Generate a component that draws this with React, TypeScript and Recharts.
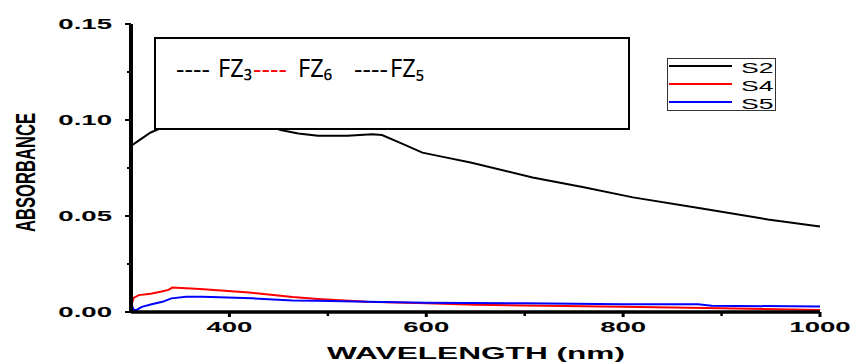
import React from 'react';
import { LineChart, Line, XAxis, YAxis, Legend } from 'recharts';

// ---- data ----
const s2Wavelength = [300, 310, 320, 330, 350, 400, 440, 452, 470, 490, 520, 545, 555, 573, 596, 617, 645, 708, 760, 810, 880, 947, 1000];
const s2Absorbance = [0.0865, 0.09, 0.0935, 0.0956, 0.098, 0.099, 0.097, 0.0948, 0.093, 0.0918, 0.0918, 0.0926, 0.0922, 0.0882, 0.083, 0.0808, 0.0779, 0.0701, 0.065, 0.0597, 0.0539, 0.0482, 0.0445];

const s4Wavelength = [300, 303, 308, 320, 330, 338, 342, 370, 420, 464, 490, 540, 600, 650, 700, 800, 900, 1000];
const s4Absorbance = [0.0035, 0.0075, 0.0088, 0.0095, 0.0105, 0.0115, 0.0127, 0.012, 0.0102, 0.0078, 0.0068, 0.0053, 0.0045, 0.0038, 0.0034, 0.0027, 0.002, 0.001];

const s5Wavelength = [300, 303, 306, 311, 321, 332, 341, 356, 373, 423, 464, 490, 540, 600, 700, 800, 876, 890, 1000];
const s5Absorbance = [0.0045, 0.001, 0.0012, 0.0027, 0.004, 0.0053, 0.0071, 0.0079, 0.008, 0.0071, 0.006, 0.0058, 0.0054, 0.0048, 0.0045, 0.0041, 0.004, 0.0033, 0.0028];

const seriesNames = ['S2', 'S4', 'S5'];
const seriesColors = ['#000000', '#ff0000', '#0000ff'];

const xTicks = [400, 500, 600, 700, 800, 900, 1000];
const yTicks = [0, 0.025, 0.05, 0.075, 0.1, 0.125, 0.15];
const topTicks = [1, 2, 3, 4, 5, 6, 7, 8, 9];
const rightTicks = [0.5, 1, 1.5, 2, 2.5, 3, 3.5, 4, 4.5];

const xLabel = 'WAVELENGTH (nm)';
const yLabel = 'ABSORBANCE';
const noteLabels = ['FZ₃', 'FZ₆', 'FZ₅'];
const noteDashColors = ['#000000', '#ff0000', '#000000'];

const toPoints = (xs: number[], ys: number[]) => xs.map((x, i) => ({ wavelength: x, absorbance: ys[i] }));
const seriesData = [
  toPoints(s2Wavelength, s2Absorbance),
  toPoints(s4Wavelength, s4Absorbance),
  toPoints(s5Wavelength, s5Absorbance),
];

const FONT = "'Liberation Sans', Arial, sans-serif";
const NOTE_FONT = "'Noto Sans', Lato, sans-serif";
const STRETCH = 1.97;

const LeftTick = (props: any) => {
  const { x, y, payload } = props;
  const v = payload.value as number;
  const major = Math.abs(v / 0.05 - Math.round(v / 0.05)) < 1e-6;
  return (
    <g>
      <line x1={x - (major ? 6 : 4)} x2={x} y1={y} y2={y} stroke="#000" strokeWidth={2} />
      {major && (
        <text
          transform={`translate(${x - 19},${y + 5}) scale(${STRETCH},1)`}
          textAnchor="end"
          fontFamily={FONT}
          fontWeight="bold"
          fontSize={14}
          fill="#000"
        >
          {v.toFixed(2)}
        </text>
      )}
    </g>
  );
};

const BottomTick = (props: any) => {
  const { x, y, payload } = props;
  const v = payload.value as number;
  const major = v % 200 === 0;
  return (
    <g>
      <line x1={x} x2={x} y1={y} y2={y + (major ? 5 : 4)} stroke="#000" strokeWidth={major ? 3 : 2.5} />
      {major && (
        <text
          transform={`translate(${x},${y + 20}) scale(${STRETCH},1)`}
          textAnchor="middle"
          fontFamily={FONT}
          fontWeight="bold"
          fontSize={14}
          fill="#000"
        >
          {String(v)}
        </text>
      )}
    </g>
  );
};

const TopTick = (props: any) => {
  const { x, y, payload } = props;
  const major = payload.value % 2 === 0;
  return <line x1={x} x2={x} y1={y} y2={y + (major ? 5 : 3)} stroke="#000" strokeWidth={major ? 3 : 2.5} />;
};

const RightTick = (props: any) => {
  const { x, y, payload } = props;
  const major = Number.isInteger(payload.value);
  return <line x1={x - (major ? 5 : 3)} x2={x} y1={y} y2={y} stroke="#000" strokeWidth={major ? 3 : 2.5} />;
};

const LegendBox = (props: any) => {
  const payload = props.payload || [];
  return (
    <svg width={110} height={54} style={{ display: 'block' }}>
      <rect x={0.5} y={0.5} width={108} height={52} fill="#fff" stroke="#333" strokeWidth={1} />
      {payload.map((p: any, i: number) => (
        <g key={p.value}>
          <line x1={2} x2={65} y1={8 + 18 * i} y2={8 + 18 * i} stroke={p.color} strokeWidth={2} />
          <text
            transform={`translate(74,${14.5 + 18 * i}) scale(1.9,1)`}
            fontFamily={FONT}
            fontSize={14}
            fill="#000"
          >
            {p.value}
          </text>
        </g>
      ))}
    </svg>
  );
};

const NoteBox = () => {
  const dashX = [176, 253, 354];
  const nameX = [218, 298, 390];
  return (
    <svg width={852} height={363} style={{ position: 'absolute', left: 0, top: 0, pointerEvents: 'none' }}>
      <rect x={155} y={38} width={474} height={91} fill="#fff" stroke="#000" strokeWidth={2} />
      {noteLabels.map((n, i) => (
        <g key={i}>
          <text x={dashX[i]} y={77} fontFamily={NOTE_FONT} fontSize={24} fill={noteDashColors[i]} textLength={34} lengthAdjust="spacingAndGlyphs">
            ----
          </text>
          <text x={nameX[i]} y={77} fontFamily={NOTE_FONT} fontSize={25} fill="#000" textLength={34} lengthAdjust="spacingAndGlyphs">
            {n}
          </text>
        </g>
      ))}
    </svg>
  );
};

export default function App() {
  return (
    <div style={{ position: 'absolute', left: 0, top: 0, width: 852, height: 363, background: '#fff' }}>
      <LineChart width={852} height={363} margin={{ top: 24, right: 32, bottom: 0, left: 0 }}>
        <XAxis
          xAxisId="b"
          dataKey="wavelength"
          type="number"
          domain={[300, 1000]}
          ticks={xTicks}
          interval={0}
          height={51}
          tickSize={0}
          tickMargin={0}
          tickLine={false}
          axisLine={{ stroke: '#000', strokeWidth: 3.5 }}
          tick={<BottomTick />}
          allowDataOverflow
          label={{
            value: xLabel,
            content: () => (
              <text x={476} y={359} textAnchor="middle" fontFamily={FONT} fontWeight="bold" fontSize={17} textLength={298} lengthAdjust="spacingAndGlyphs" fill="#000">
                {xLabel}
              </text>
            ),
          }}
        />
        <XAxis
          xAxisId="t"
          orientation="top"
          type="number"
          domain={[0, 9.96]}
          ticks={topTicks}
          interval={0}
          height={0}
          tickSize={0}
          tickMargin={0}
          tickLine={false}
          axisLine={{ stroke: '#000', strokeWidth: 2.5 }}
          tick={<TopTick />}
          allowDataOverflow
        />
        <YAxis
          yAxisId="l"
          type="number"
          domain={[0, 0.15]}
          ticks={yTicks}
          interval={0}
          width={131}
          tickSize={0}
          tickMargin={0}
          tickLine={false}
          axisLine={{ stroke: '#000', strokeWidth: 4 }}
          tick={<LeftTick />}
          allowDataOverflow
          label={{
            value: yLabel,
            content: () => (
              <text transform="translate(35,172.5) rotate(-90)" textAnchor="middle" fontFamily={FONT} fontWeight="bold" fontSize={28} textLength={119} lengthAdjust="spacingAndGlyphs" fill="#000">
                {yLabel}
              </text>
            ),
          }}
        />
        <YAxis
          yAxisId="r"
          orientation="right"
          type="number"
          domain={[0, 5]}
          ticks={rightTicks}
          interval={0}
          width={0}
          tickSize={0}
          tickMargin={0}
          tickLine={false}
          axisLine={{ stroke: '#000', strokeWidth: 3.5 }}
          tick={<RightTick />}
          allowDataOverflow
        />
        <Legend
          layout="vertical"
          align="center"
          verticalAlign="middle"
          content={<LegendBox />}
          wrapperStyle={{ position: 'absolute', left: 667, top: 58, width: 110, height: 54, margin: 0, padding: 0 }}
        />
        {seriesNames.map((name, i) => (
          <Line
            key={name}
            xAxisId="b"
            yAxisId="l"
            data={seriesData[i]}
            dataKey="absorbance"
            name={name}
            type="linear"
            stroke={seriesColors[i]}
            strokeWidth={2}
            dot={false}
            activeDot={false}
            isAnimationActive={false}
          />
        ))}
      </LineChart>
      <NoteBox />
    </div>
  );
}
